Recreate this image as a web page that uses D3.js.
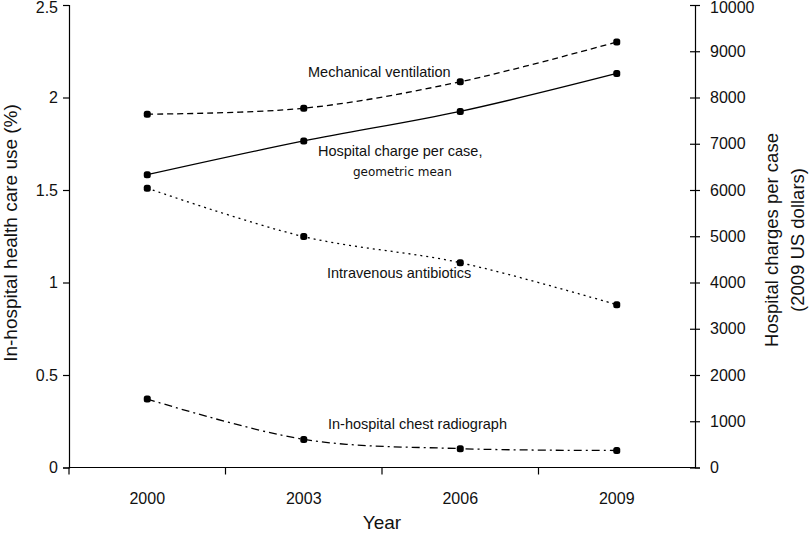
<!DOCTYPE html>
<html>
<head>
<meta charset="utf-8">
<script src="https://cdn.jsdelivr.net/npm/d3@7"></script>
<style>
  html, body { margin: 0; padding: 0; background: #fff; }
  svg { display: block; font-family: "Liberation Sans", Arial, sans-serif; }
</style>
</head>
<body>
<svg id="chart" width="812" height="535"></svg>
<script>
const years = ["2000", "2003", "2006", "2009"];
const mechanicalVentilation = [1.91, 1.942, 2.085, 2.30];
const intravenousAntibiotics = [1.51, 1.248, 1.107, 0.88];
const chestRadiograph = [0.37, 0.152, 0.102, 0.092];
const hospitalCharge = [6330, 7060, 7700, 8520];
const leftTicks = [0, 0.5, 1, 1.5, 2, 2.5];
const rightTicks = [0, 1000, 2000, 3000, 4000, 5000, 6000, 7000, 8000, 9000, 10000];

const svg = d3.select("#chart");
const mLeft = 69, mRight = 695, mTop = 5, mBottom = 467.5;

const x = d3.scaleBand().domain(years).range([mLeft, mRight]).padding(0);
const yL = d3.scaleLinear().domain([0, 2.5]).range([mBottom, mTop]);
const yR = d3.scaleLinear().domain([0, 10000]).range([mBottom, mTop]);
const cx = d => x(d) + x.bandwidth() / 2;

// X axis (ticks at band boundaries, labels at centres)
const xAxis = svg.append("g").attr("transform", `translate(0,${mBottom})`);
xAxis.append("line").attr("x1", mLeft).attr("x2", mRight).attr("y1", 0).attr("y2", 0)
  .attr("stroke", "#000").attr("stroke-width", 1.2);
const bounds = years.map(d => x(d));
xAxis.selectAll("line.tk").data(bounds).join("line").attr("class", "tk")
  .attr("x1", d => d).attr("x2", d => d).attr("y1", 0).attr("y2", 7)
  .attr("stroke", "#000").attr("stroke-width", 1.2);
xAxis.selectAll("text").data(years).join("text")
  .attr("x", d => cx(d)).attr("y", 36).attr("text-anchor", "middle")
  .attr("font-size", 16).attr("fill", "#111").text(d => d);

// Left axis
const la = svg.append("g").attr("transform", `translate(${mLeft},0)`)
  .call(d3.axisLeft(yL).tickValues(leftTicks).tickFormat(d => String(d)).tickSize(6).tickPadding(5));
la.select(".domain").attr("stroke-width", 1.2);
la.selectAll(".tick line").attr("stroke-width", 1.2);
la.selectAll(".tick text").attr("font-size", 16).attr("fill", "#111").attr("font-family", "Liberation Sans, Arial, sans-serif")
  .attr("dy", d => d === 2.5 ? "0.45em" : "0.32em");

// Right axis (cross ticks)
const ra = svg.append("g").attr("transform", `translate(${mRight},0)`)
  .call(d3.axisRight(yR).tickValues(rightTicks).tickFormat(d => String(d)).tickSize(5).tickPadding(10));
ra.select(".domain").attr("stroke-width", 1.2);
ra.selectAll(".tick line").attr("x1", -5).attr("stroke-width", 1.2);
ra.selectAll(".tick text").attr("font-size", 16).attr("fill", "#111").attr("font-family", "Liberation Sans, Arial, sans-serif")
  .attr("dy", d => d === 10000 ? "0.45em" : "0.32em");

// Axis titles
svg.append("text").attr("transform", "translate(17,233) rotate(-90)")
  .attr("text-anchor", "middle").attr("font-size", 19).attr("fill", "#111")
  .text("In-hospital health care use (%)");
svg.append("text").attr("transform", "translate(778,240) rotate(-90)")
  .attr("text-anchor", "middle").attr("font-size", 18.5).attr("fill", "#111")
  .text("Hospital charges per case");
svg.append("text").attr("transform", "translate(804,240) rotate(-90)")
  .attr("text-anchor", "middle").attr("font-size", 18.5).attr("fill", "#111")
  .text("(2009 US dollars)");
svg.append("text").attr("x", (mLeft + mRight) / 2).attr("y", 529)
  .attr("text-anchor", "middle").attr("font-size", 19).attr("fill", "#111").text("Year");

// Series
const series = [
  { vals: mechanicalVentilation, scale: yL, dash: "6,4" },
  { vals: hospitalCharge, scale: yR, dash: null },
  { vals: intravenousAntibiotics, scale: yL, dash: "2,4" },
  { vals: chestRadiograph, scale: yL, dash: "8,4,2,4" }
];
series.forEach(s => {
  const pts = years.map((y, i) => [cx(y), s.scale(s.vals[i])]);
  svg.append("path").attr("d", d3.line().curve(d3.curveCatmullRom.alpha(0.5))(pts))
    .attr("fill", "none").attr("stroke", "#000").attr("stroke-width", 1.3)
    .attr("stroke-dasharray", s.dash);
  svg.append("g").selectAll("rect").data(pts).join("rect")
    .attr("x", d => d[0] - 3.5).attr("y", d => d[1] - 3.5)
    .attr("width", 7).attr("height", 7).attr("rx", 2.5).attr("fill", "#000");
});

// Series labels
const lab = (t, xx, yy, fs, ff) => svg.append("text").attr("x", xx).attr("y", yy)
  .attr("font-size", fs).attr("fill", "#111").attr("font-family", ff || null)
  .attr("dominant-baseline", "middle").text(t);
lab("Mechanical ventilation", 308, 73, 14.5);
lab("Hospital charge per case,", 318, 152, 14.5);
lab("geometric mean", 353, 172, 12, "DejaVu Sans, sans-serif");
lab("Intravenous antibiotics", 327, 274, 14.5);
lab("In-hospital chest radiograph", 328, 425, 14.5);
</script>
</body>
</html>
